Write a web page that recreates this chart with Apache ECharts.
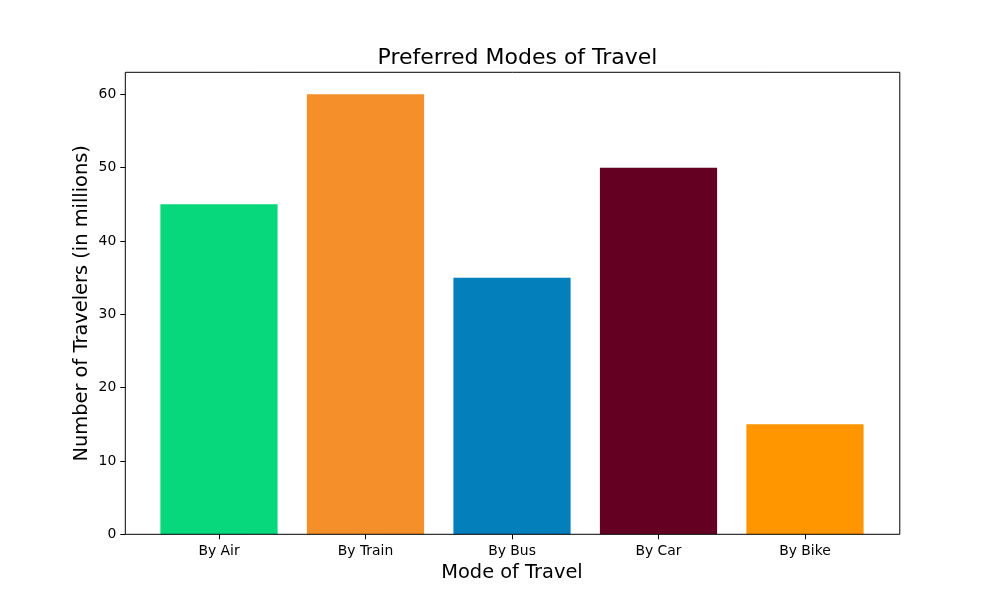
<!DOCTYPE html>
<html>
<head>
<meta charset="utf-8">
<script src="https://cdn.jsdelivr.net/npm/echarts@6/dist/echarts.min.js"></script>
<style>html,body{margin:0;padding:0;background:#fff}#c{width:1000px;height:600px}</style>
</head>
<body>
<div id="c"></div>
<script>
const categories = ['By Air', 'By Train', 'By Bus', 'By Car', 'By Bike'];
const travelers = [45, 60, 35, 50, 15];
const barColors = ['#08d87c', '#f58f29', '#037fbb', '#640022', '#ff9600'];
const yTicks = [0, 10, 20, 30, 40, 50, 60];

const FONT = 'DejaVu Sans';
const chart = echarts.init(document.getElementById('c'), null, {renderer: 'canvas'});
chart.setOption({
  animation: false,
  backgroundColor: '#fff',
  title: {
    text: 'Preferred Modes of Travel',
    left: 512.5, top: 42, textAlign: 'center',
    textStyle: {fontFamily: FONT, fontSize: 22, fontWeight: 'normal', color: '#000'}
  },
  grid: [
    {left: 145.75, right: 121.75, top: 72.3, bottom: 65.7, containLabel: false},
    {left: 125.3, right: 100.2, top: 72.3, bottom: 65.7, show: true, borderColor: '#000', borderWidth: 1, backgroundColor: 'transparent', z: 5}
  ],
  xAxis: [
    {
      type: 'category', gridIndex: 0, data: categories,
      boundaryGap: true,
      axisLine: {show: false},
      axisTick: {show: true, alignWithLabel: true, length: 5, lineStyle: {color: '#000'}},
      axisLabel: {color: '#000', fontFamily: FONT, fontSize: 13.9, margin: 10},
      name: 'Mode of Travel', nameLocation: 'middle', nameGap: 29,
      nameTextStyle: {fontFamily: FONT, fontSize: 19.4, color: '#000'}
    },
    {type: 'value', gridIndex: 1, show: false, min: 0, max: 1}
  ],
  yAxis: [
    {
      type: 'value', gridIndex: 0, min: 0, max: 63, interval: 10,
      offset: 20.45,
      splitLine: {show: false},
      axisLine: {show: false},
      axisTick: {show: true, length: 5, lineStyle: {color: '#000'}, customValues: yTicks},
      axisLabel: {color: '#000', fontFamily: FONT, fontSize: 13.9, margin: 9, customValues: yTicks},
      name: 'Number of Travelers (in millions)', nameLocation: 'middle', nameGap: 34,
      nameMoveOverlap: false,
      nameTextStyle: {fontFamily: FONT, fontSize: 19.4, color: '#000'}
    },
    {type: 'value', gridIndex: 1, show: false, min: 0, max: 1}
  ],
  series: [{
    type: 'bar',
    xAxisIndex: 0, yAxisIndex: 0,
    barWidth: '80%',
    data: travelers.map((v, i) => ({value: v, itemStyle: {color: barColors[i]}}))
  }]
});
</script>
</body>
</html>
